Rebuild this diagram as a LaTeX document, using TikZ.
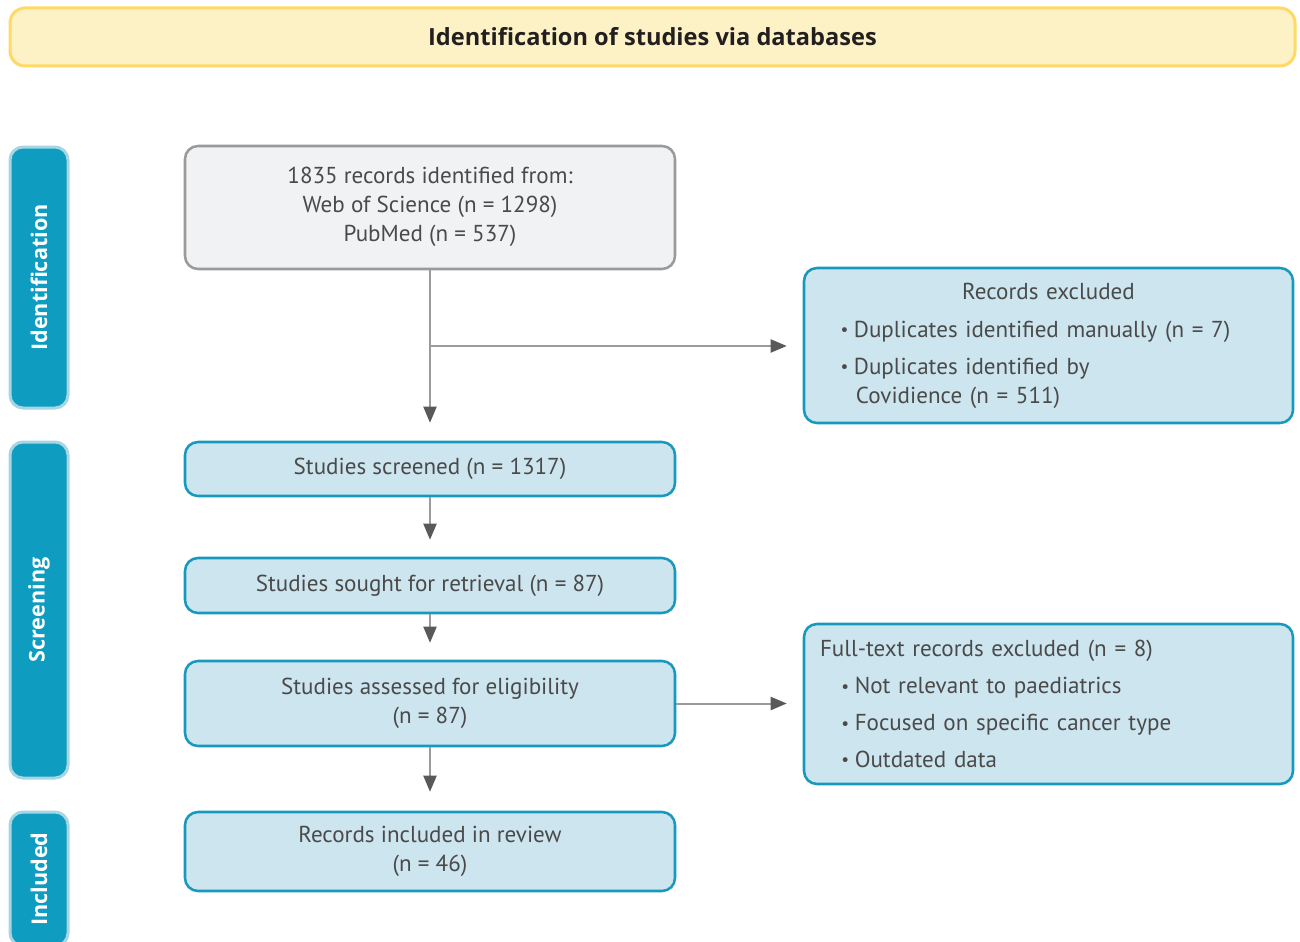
\documentclass[tikz,border=0pt]{standalone}
\usepackage{fontspec}
\setmainfont{PT Sans}
\newfontfamily\boldfam{Open Sans}[UprightFont=* Bold]
\usetikzlibrary{arrows.meta}
\definecolor{hdrfill}{HTML}{FDF2C5}
\definecolor{hdrline}{HTML}{FFD966}
\definecolor{barfill}{HTML}{0E9DC0}
\definecolor{barline}{HTML}{A6D6E4}
\definecolor{boxfill}{HTML}{CDE5EE}
\definecolor{boxline}{HTML}{1799BE}
\definecolor{grayfill}{HTML}{F1F2F4}
\definecolor{grayline}{HTML}{9A9A9A}
\definecolor{txt}{HTML}{4A4A4A}
\definecolor{ttl}{HTML}{231F20}
\definecolor{arrline}{HTML}{9B9B9B}
\definecolor{arrhead}{HTML}{58595B}
\newcommand\blt{\raisebox{0.12ex}{\fontsize{13}{13}\selectfont\textbullet}\hspace{4.2pt}}
\tikzset{
  basefont/.style={font=\fontsize{17.3}{21.75}\selectfont},
  bluebox/.style={draw=boxline, fill=boxfill, line width=1.9pt, rounded corners=9.75pt,
    text=txt, inner sep=0pt, align=center, basefont},
  graybox/.style={bluebox, draw=grayline, fill=grayfill},
  sidebar/.style={draw=barline, fill=barfill, line width=2.25pt, rounded corners=9.75pt,
    text=white, inner sep=0pt, font=\boldfam\fontsize{16.2}{20}\selectfont, rotate=90},
  header/.style={draw=hdrline, fill=hdrfill, line width=2.25pt, rounded corners=11.25pt,
    text=ttl, inner sep=0pt, font=\boldfam\fontsize{17.7}{20}\selectfont},
  flow/.style={draw=arrline, line width=1.5pt,
    -{Triangle[length=12pt, width=9.75pt, color=arrhead]}},
}
\begin{document}
\begin{tikzpicture}[x=0.75pt, y=-0.75pt]
\clip (0,0) rectangle (1300,942);
\fill[white] (0,0) rectangle (1300,942);

% header
\node[header, minimum width=963.75pt, minimum height=43.5pt] (hdr) at (652.5,37)
  {Identification of studies via databases};

% side bars
\node[sidebar, minimum width=195.75pt, minimum height=43.5pt] (sbid) at (39,277.5) {Identification};
\node[sidebar, minimum width=252pt, minimum height=43.5pt] (sbsc) at (39,610) {Screening};
\node[sidebar, minimum width=100.5pt, minimum height=43.5pt] (sbin) at (39,879) {Included};

% main column
\node[graybox, minimum width=367.5pt, minimum height=92.25pt] (rec) at (430,207.5)
  {1835 records identified from:\\ Web of Science (n = 1298)\\ PubMed (n = 537)\\[-17.25pt]\mbox{}};
\node[bluebox, minimum width=367.5pt, minimum height=40.5pt] (scr) at (430,469)
  {Studies screened (n = 1317)};
\node[bluebox, minimum width=367.5pt, minimum height=41.25pt] (sou) at (430,585.5)
  {Studies sought for retrieval (n = 87)};
\node[bluebox, minimum width=367.5pt, minimum height=63.75pt] (ass) at (430,703.5)
  {Studies assessed for eligibility\\ (n = 87)};
\node[bluebox, minimum width=367.5pt, minimum height=59.25pt] (inc) at (430,851.5)
  {Records included in review\\ (n = 46)};

% exclusion boxes
\node[bluebox, minimum width=366.75pt, minimum height=116.25pt, text width=309pt, align=left]
  (exc) at (1048.5,345.5)
  {\makebox[\linewidth][c]{Records excluded}\\[6.75pt]
   \hspace*{-1.5pt}\blt Duplicates identified manually (n = 7)\\[6pt]
   \hspace*{-1.5pt}\blt Duplicates identified by\\
   \hphantom{\blt}Covidience (n = 511)};
\node[bluebox, minimum width=366.75pt, minimum height=120pt, text width=342.75pt, align=left]
  (ftx) at (1048.5,704)
  {Full-text records excluded (n = 8)\\[5.8pt]
   \hspace*{16pt}\blt Not relevant to paediatrics\\[5.8pt]
   \hspace*{16pt}\blt Focused on specific cancer type\\[5.8pt]
   \hspace*{16pt}\blt Outdated data};

% connectors
\coordinate (br) at (430,346);
\draw[flow, shorten >=13.5pt] (rec.south) -- (scr.north);
\draw[flow, shorten >=12pt] (br) -- (br -| exc.west);
\draw[flow, shorten >=12.75pt] (scr.south) -- (sou.north);
\draw[flow, shorten >=12.75pt] (sou.south) -- (ass.north);
\draw[flow, shorten >=14.25pt] (ass.south) -- (inc.north);
\draw[flow, shorten >=12pt] (ass.east) -- (ass.east -| ftx.west);
\end{tikzpicture}
\end{document}
